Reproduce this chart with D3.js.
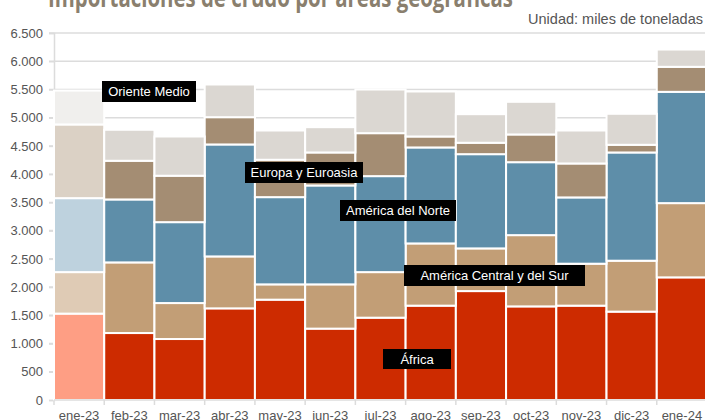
<!DOCTYPE html>
<html>
<head>
<meta charset="utf-8">
<script src="https://cdn.jsdelivr.net/npm/d3@7"></script>
<style>
  html, body { margin: 0; padding: 0; background: #fff; overflow: hidden; }
  svg { display: block; }
</style>
</head>
<body>
<svg id="chart" width="705" height="420"></svg>
<script>
// datos (miles de toneladas)
const meses = ["ene-23", "feb-23", "mar-23", "abr-23", "may-23", "jun-23", "jul-23",
               "ago-23", "sep-23", "oct-23", "nov-23", "dic-23", "ene-24"];
const africa      = [1530, 1186, 1080, 1623, 1777, 1264, 1458, 1671, 1929, 1658, 1671, 1565, 2172];
const centroSur   = [735, 1251, 637, 920, 271, 784, 807, 1102, 756, 1262, 743, 902, 1315];
const norte       = [1310, 1115, 1433, 1983, 1545, 1752, 1700, 1700, 1669, 1292, 1174, 1917, 1971];
const europa      = [1305, 685, 822, 483, 662, 584, 761, 194, 202, 491, 601, 136, 443];
const oriente     = [600, 549, 695, 579, 518, 448, 773, 797, 506, 578, 584, 549, 306];
const yTicks      = [0, 500, 1000, 1500, 2000, 2500, 3000, 3500, 4000, 4500, 5000, 5500, 6000, 6500];

const series = ["africa", "centroSur", "norte", "europa", "oriente"];
const colores  = {africa: "#cd2b00", centroSur: "#c29e76", norte: "#5e8ea9", europa: "#a48d73", oriente: "#dbd7d2"};
// primer mes con tonos claros
const claros   = {africa: "#fe9e84", centroSur: "#dfcbb5", norte: "#bed2de", europa: "#dbd1c5", oriente: "#f0efed"};

const tabla = meses.map((m, i) => ({
  mes: m, africa: africa[i], centroSur: centroSur[i], norte: norte[i], europa: europa[i], oriente: oriente[i]
}));

const svg = d3.select("#chart");
const x = d3.scaleBand().domain(meses).range([54, 707]).padding(0);
const y = d3.scaleLinear().domain([0, 6500]).range([400, 33]);

// titulo (cortado arriba)
svg.append("text")
  .attr("x", 48).attr("y", 7)
  .attr("textLength", 465)
  .attr("lengthAdjust", "spacingAndGlyphs")
  .style("font-family", "'Open Sans', sans-serif")
  .style("font-weight", "bold")
  .style("font-size", "26px")
  .style("fill", "#8a7f6e")
  .text("Importaciones de crudo por áreas geográficas");

svg.append("text")
  .attr("x", 703).attr("y", 24)
  .attr("text-anchor", "end")
  .style("font-family", "'Liberation Sans', Arial, sans-serif")
  .style("font-size", "14.5px")
  .style("fill", "#555")
  .text("Unidad: miles de toneladas");

// rejilla
svg.append("g").selectAll("line")
  .data(yTicks.filter(d => d > 0))
  .join("line")
  .attr("x1", 49).attr("x2", 707)
  .attr("y1", d => y(d)).attr("y2", d => y(d))
  .attr("stroke", "#dcdcdc")
  .attr("stroke-width", 1.5);

// eje y
const yAxis = svg.append("g")
  .attr("transform", "translate(54,0)")
  .call(d3.axisLeft(y).tickValues(yTicks).tickSize(5).tickPadding(6)
    .tickFormat(d => d3.format(",")(d).replace(/,/g, ".")));
yAxis.select(".domain").attr("stroke", "#dcdcdc").attr("stroke-width", 1.5);
yAxis.selectAll(".tick line").attr("stroke", "#dcdcdc").attr("stroke-width", 1.5);
yAxis.selectAll("text")
  .style("font-family", "'Liberation Sans', Arial, sans-serif")
  .style("font-size", "13px")
  .style("fill", "#555");

// barras apiladas
const stack = d3.stack().keys(series)(tabla);
svg.append("g").selectAll("g")
  .data(stack)
  .join("g")
  .selectAll("rect")
  .data(d => d.map(v => ({key: d.key, v: v})))
  .join("rect")
  .attr("x", d => x(d.v.data.mes))
  .attr("width", x.bandwidth())
  .attr("y", d => y(d.v[1]))
  .attr("height", d => y(d.v[0]) - y(d.v[1]))
  .attr("fill", d => d.v.data.mes === meses[0] ? claros[d.key] : colores[d.key])
  .attr("stroke", "#fff")
  .attr("stroke-width", 2);

// eje x
const xAxis = svg.append("g")
  .attr("transform", "translate(0,400)");
xAxis.append("line")
  .attr("x1", 54).attr("x2", 707).attr("y1", 0).attr("y2", 0)
  .attr("stroke", "#dcdcdc").attr("stroke-width", 1.5);
xAxis.selectAll(".tk")
  .data(meses)
  .join("line")
  .attr("class", "tk")
  .attr("x1", d => x(d)).attr("x2", d => x(d))
  .attr("y1", 0).attr("y2", 5)
  .attr("stroke", "#dcdcdc").attr("stroke-width", 1.5);
xAxis.selectAll("text")
  .data(meses)
  .join("text")
  .attr("x", d => x(d) + x.bandwidth() / 2)
  .attr("y", 19.5)
  .attr("text-anchor", "middle")
  .style("font-family", "'Liberation Sans', Arial, sans-serif")
  .style("font-size", "13px")
  .style("fill", "#555")
  .text(d => d);

// etiquetas de series (cajas negras)
const etiquetas = [
  {texto: "Oriente Medio", x0: 102, x1: 196, y0: 81, y1: 102},
  {texto: "Europa y Euroasia", x0: 245, x1: 363, y0: 162, y1: 183},
  {texto: "América del Norte", x0: 340, x1: 456, y0: 200, y1: 221},
  {texto: "América Central y del Sur", x0: 404, x1: 585, y0: 265, y1: 286},
  {texto: "África", x0: 383, x1: 451, y0: 349, y1: 369}
];
const lab = svg.append("g").selectAll("g").data(etiquetas).join("g");
lab.append("rect")
  .attr("x", d => d.x0).attr("y", d => d.y0)
  .attr("width", d => d.x1 - d.x0).attr("height", d => d.y1 - d.y0)
  .attr("fill", "#000");
lab.append("text")
  .attr("x", d => (d.x0 + d.x1) / 2)
  .attr("y", d => (d.y0 + d.y1) / 2 + 4.5)
  .attr("text-anchor", "middle")
  .style("font-family", "'Liberation Sans', Arial, sans-serif")
  .style("font-size", "13px")
  .style("fill", "#fff")
  .text(d => d.texto);
</script>
</body>
</html>
